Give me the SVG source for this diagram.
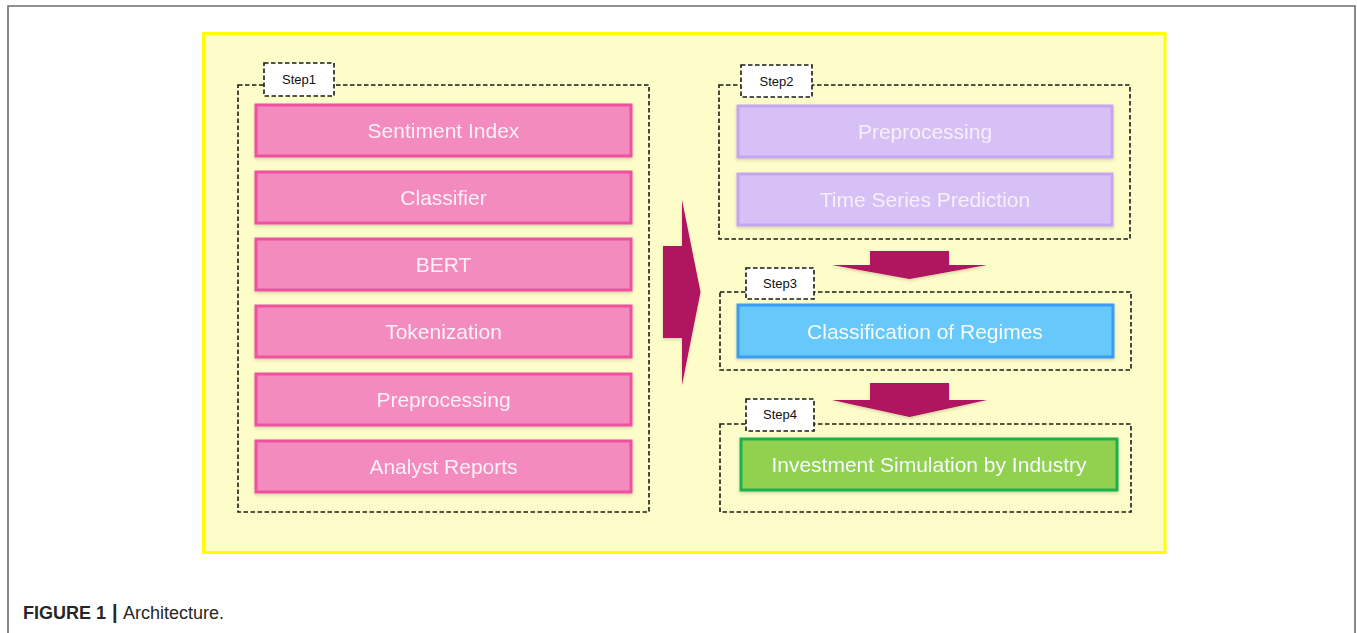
<svg xmlns="http://www.w3.org/2000/svg" width="1357" height="633" viewBox="0 0 1357 633">
  <style>
    .frame { fill: none; stroke: #6b6b6b; stroke-width: 1.6; }
    .panel { fill: #fdfdc9; stroke: #ffff00; stroke-width: 3; }
    .group { fill: none; stroke: #1a1a1a; stroke-width: 1.6; stroke-dasharray: 4.5 2.5; }
    .tag { fill: #ffffff; stroke: #1a1a1a; stroke-width: 1.6; stroke-dasharray: 4.5 2.5; }
    .tag-text { font-family: "Liberation Sans", Arial, sans-serif; font-size: 13px; fill: #111; text-anchor: middle; }
    .label { font-family: "Liberation Sans", Arial, sans-serif; font-size: 21px; text-anchor: middle; }
    .pink { fill: #f38bbf; stroke: #ee519f; stroke-width: 3; }
    .pink-text { fill: #fdf1f7; }
    .violet { fill: #d7c0f6; stroke: #c5a5f0; stroke-width: 3; }
    .violet-text { fill: #f6effd; }
    .blue { fill: #66c8fb; stroke: #3a9cf2; stroke-width: 3; }
    .green { fill: #92d050; stroke: #1cb24b; stroke-width: 3; }
    .white-text { fill: #f6fbff; }
    .flow { fill: #b0125f; }
    .caption { font-family: "Liberation Sans", Arial, sans-serif; font-size: 18px; fill: #262626; }
  </style>
  <defs>
    <filter id="soft" x="-10%" y="-10%" width="120%" height="130%">
      <feDropShadow dx="0" dy="1.5" stdDeviation="1.5" flood-color="#000" flood-opacity="0.18"/>
    </filter>
  </defs>

  <rect width="1357" height="633" fill="#ffffff"/>
  <!-- page frame: top, left and right rules -->
  <path class="frame" d="M8,633 V6 H1355 V633"/>

  <!-- yellow panel -->
  <rect class="panel" x="203.5" y="33.5" width="961.5" height="519"/>

  <!-- Step 1 -->
  <g id="step1">
    <rect class="group" x="238" y="85" width="411" height="427"/>
    <rect class="tag" x="264" y="63" width="70" height="33"/>
    <text class="tag-text" x="299" y="84">Step1</text>
  </g>
  <g id="sentiment-index" filter="url(#soft)">
    <rect class="pink" x="256" y="105" width="375" height="51"/>
    <text class="label pink-text" x="443.5" y="138">Sentiment Index</text>
  </g>
  <g id="classifier" filter="url(#soft)">
    <rect class="pink" x="256" y="172" width="375" height="51"/>
    <text class="label pink-text" x="443.5" y="205">Classifier</text>
  </g>
  <g id="bert" filter="url(#soft)">
    <rect class="pink" x="256" y="239" width="375" height="51"/>
    <text class="label pink-text" x="443.5" y="272">BERT</text>
  </g>
  <g id="tokenization" filter="url(#soft)">
    <rect class="pink" x="256" y="306" width="375" height="51"/>
    <text class="label pink-text" x="443.5" y="339">Tokenization</text>
  </g>
  <g id="preprocessing-text" filter="url(#soft)">
    <rect class="pink" x="256" y="374" width="375" height="51"/>
    <text class="label pink-text" x="443.5" y="407">Preprocessing</text>
  </g>
  <g id="analyst-reports" filter="url(#soft)">
    <rect class="pink" x="256" y="441" width="375" height="51"/>
    <text class="label pink-text" x="443.5" y="474">Analyst Reports</text>
  </g>

  <!-- Step 2 -->
  <g id="step2">
    <rect class="group" x="719" y="85" width="411" height="154"/>
    <rect class="tag" x="741" y="65" width="71" height="32"/>
    <text class="tag-text" x="776.5" y="86">Step2</text>
  </g>
  <g id="preprocessing-series" filter="url(#soft)">
    <rect class="violet" x="738" y="106" width="374" height="51"/>
    <text class="label violet-text" x="925" y="139">Preprocessing</text>
  </g>
  <g id="time-series-prediction" filter="url(#soft)">
    <rect class="violet" x="738" y="174" width="374" height="51"/>
    <text class="label violet-text" x="925" y="207">Time Series Prediction</text>
  </g>

  <!-- Step 3 -->
  <g id="step3">
    <rect class="group" x="720" y="292" width="411" height="78"/>
    <rect class="tag" x="746" y="268" width="68" height="31"/>
    <text class="tag-text" x="780" y="288">Step3</text>
  </g>
  <g id="classification-of-regimes" filter="url(#soft)">
    <rect class="blue" x="738" y="305" width="375" height="52"/>
    <text class="label white-text" x="925" y="339">Classification of Regimes</text>
  </g>

  <!-- Step 4 -->
  <g id="step4">
    <rect class="group" x="720" y="424" width="411" height="88"/>
    <rect class="tag" x="746" y="399" width="68" height="32"/>
    <text class="tag-text" x="780" y="419">Step4</text>
  </g>
  <g id="investment-simulation" filter="url(#soft)">
    <rect class="green" x="741" y="439" width="376" height="51"/>
    <text class="label white-text" x="929" y="472">Investment Simulation by Industry</text>
  </g>

  <!-- block arrows between steps -->
  <g id="connectors" filter="url(#soft)">
    <polygon class="flow" points="663,246 682,246 682,200 700.5,292 682,385 682,338 663,338"/>
    <polygon class="flow" points="870,251 949,251 949,265 987,265 909.5,279 832,265 870,265"/>
    <polygon class="flow" points="870,383 949,383 949,400 987,400 909.5,417 832,400 870,400"/>
  </g>

  <!-- caption -->
  <text class="caption" x="23" y="619"><tspan font-weight="bold">FIGURE 1</tspan><tspan x="112" font-weight="bold" font-size="20">|</tspan><tspan x="123">Architecture.</tspan></text>
</svg>
